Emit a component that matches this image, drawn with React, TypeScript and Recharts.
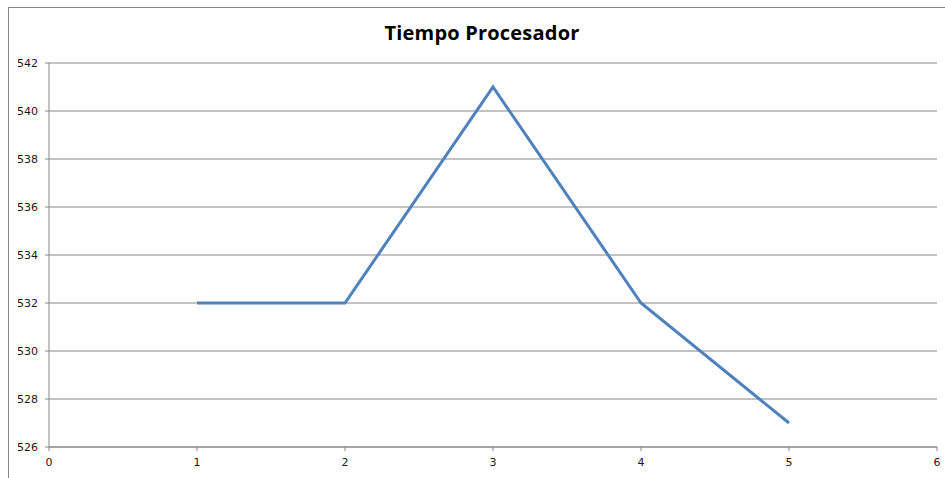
import React from 'react';
import { LineChart, Line, XAxis, YAxis, CartesianGrid } from 'recharts';

// Processor time per run
const runs = [1, 2, 3, 4, 5];
const tiempos = [532, 532, 541, 532, 527];
const xTicks = [0, 1, 2, 3, 4, 5, 6];
const yTicks = [526, 528, 530, 532, 534, 536, 538, 540, 542];

const data = runs.map((r, i) => ({ run: r, tiempo: tiempos[i] }));

const axisGray = '#868686';
const tickStyle = { fontFamily: 'DejaVu Sans, Verdana, sans-serif', fontSize: 11, fill: '#1a1a1a' };

export default function App() {
  return (
    <div style={{ position: 'absolute', left: 0, top: 0, width: 945, height: 478, background: '#fff' }}>
      <div
        style={{
          position: 'absolute',
          left: 8,
          top: 7,
          width: 937,
          height: 471,
          borderLeft: `1px solid ${axisGray}`,
          borderTop: `1px solid ${axisGray}`,
          boxSizing: 'border-box',
        }}
      />
      <div
        style={{
          position: 'absolute',
          left: 0,
          top: 18,
          width: 964,
          textAlign: 'center',
          fontFamily: 'Open Sans, Liberation Sans, sans-serif',
          fontWeight: 700,
          fontSize: 20,
          letterSpacing: 0.2,
          lineHeight: '30px',
          color: '#000',
        }}
      >
        Tiempo Procesador
      </div>
      <LineChart
        width={945}
        height={478}
        data={data}
        margin={{ top: 63, right: 8, bottom: 0, left: 0 }}
        style={{ position: 'absolute', left: 0, top: 0 }}
      >
        <CartesianGrid vertical={false} stroke={axisGray} strokeWidth={1} />
        <XAxis
          dataKey="run"
          type="number"
          domain={[0, 6]}
          ticks={xTicks}
          height={31}
          stroke={axisGray}
          tickSize={4}
          tickMargin={7}
          tick={tickStyle}
          interval={0}
        />
        <YAxis
          type="number"
          domain={[526, 542]}
          ticks={yTicks}
          width={49}
          stroke={axisGray}
          tickSize={4}
          tickMargin={7}
          tick={tickStyle}
          interval={0}
        />
        <Line
          type="linear"
          dataKey="tiempo"
          stroke="#4F81BD"
          strokeWidth={3}
          dot={false}
          isAnimationActive={false}
        />
      </LineChart>
    </div>
  );
}
